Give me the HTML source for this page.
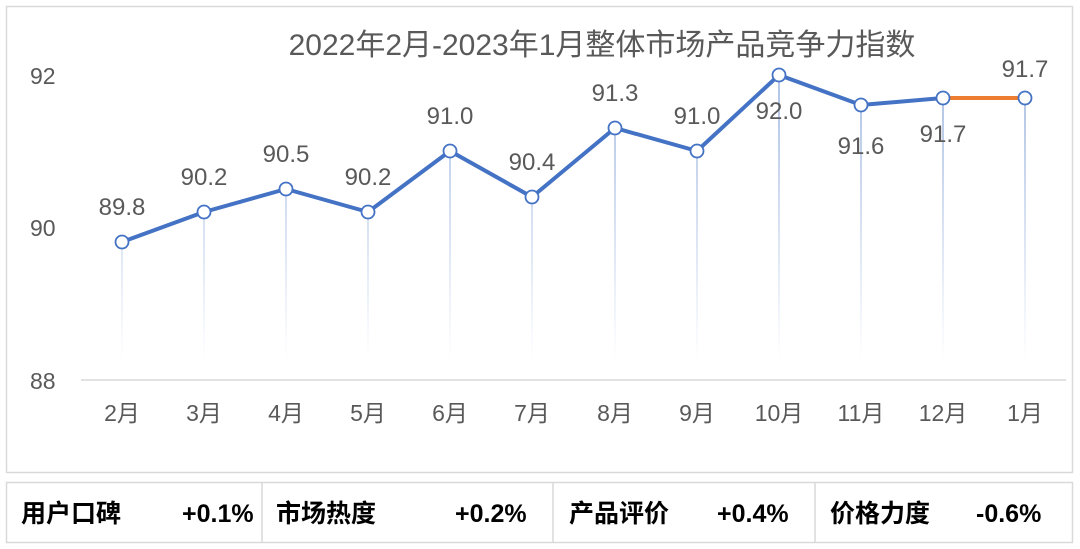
<!DOCTYPE html>
<html><head><meta charset="utf-8"><style>
body{margin:0;background:#fff;width:1080px;height:549px;overflow:hidden;font-family:"Liberation Sans","Noto Sans CJK SC",sans-serif}
</style></head><body>
<svg width="1080" height="549" xmlns="http://www.w3.org/2000/svg" style="position:absolute;left:0;top:0">
<defs><linearGradient id="g" gradientUnits="userSpaceOnUse" x1="0" y1="100" x2="0" y2="360"><stop offset="0" stop-color="#b4c7e7"/><stop offset="1" stop-color="#b4c7e7" stop-opacity="0"/></linearGradient></defs>
<rect x="6.5" y="6.5" width="1066" height="466" fill="#fff" stroke="#d9d9d9" stroke-width="1.5"/>
<text x="602" y="55" text-anchor="middle" font-size="30" fill="#595959" font-family="Liberation Sans,Noto Sans CJK SC,sans-serif">2022年2月-2023年1月整体市场产品竞争力指数</text>
<g font-size="23" fill="#595959">
<text x="30" y="84">92</text><text x="30" y="236">90</text><text x="30" y="389">88</text>
</g>
<line x1="81" y1="380" x2="1066" y2="380" stroke="#d9d9d9" stroke-width="1.5"/>
<g font-size="23" fill="#595959" text-anchor="middle" font-family="Liberation Sans,Noto Sans CJK SC,sans-serif">
<text x="122" y="421">2月</text><text x="204" y="421">3月</text><text x="286" y="421">4月</text><text x="368" y="421">5月</text><text x="450" y="421">6月</text><text x="532" y="421">7月</text><text x="615" y="421">8月</text><text x="697" y="421">9月</text><text x="779" y="421">10月</text><text x="861" y="421">11月</text><text x="943" y="421">12月</text><text x="1025" y="421">1月</text>
</g>
<g fill="url(#g)">
<rect x="121" y="242" width="2" height="118"/><rect x="203" y="212" width="2" height="148"/><rect x="285" y="189" width="2" height="171"/><rect x="367" y="212" width="2" height="148"/><rect x="449" y="151" width="2" height="209"/><rect x="531" y="197" width="2" height="163"/><rect x="614" y="128" width="2" height="232"/><rect x="696" y="151" width="2" height="209"/><rect x="778" y="75" width="2" height="285"/><rect x="860" y="105" width="2" height="255"/><rect x="942" y="98" width="2" height="262"/><rect x="1024" y="98" width="2" height="262"/>
</g>
<polyline points="122,242 204,212 286,189 368,212 450,151 532,197 615,128 697,151 779,75 861,105 943,98" fill="none" stroke="#4472c4" stroke-width="4" stroke-linejoin="round"/>
<line x1="943" y1="98" x2="1025" y2="98" stroke="#ed7d31" stroke-width="4"/>
<g fill="#fff" stroke="#4472c4" stroke-width="1.8">
<circle cx="122" cy="242" r="6.5"/><circle cx="204" cy="212" r="6.5"/><circle cx="286" cy="189" r="6.5"/><circle cx="368" cy="212" r="6.5"/><circle cx="450" cy="151" r="6.5"/><circle cx="532" cy="197" r="6.5"/><circle cx="615" cy="128" r="6.5"/><circle cx="697" cy="151" r="6.5"/><circle cx="779" cy="75" r="6.5"/><circle cx="861" cy="105" r="6.5"/><circle cx="943" cy="98" r="6.5"/><circle cx="1025" cy="98" r="6.5"/>
</g>
<g font-size="24" fill="#595959" text-anchor="middle">
<text x="122" y="215">89.8</text><text x="204" y="185">90.2</text><text x="286" y="162">90.5</text><text x="368" y="185">90.2</text><text x="450" y="124">91.0</text><text x="532" y="170">90.4</text><text x="615" y="101">91.3</text><text x="697" y="124">91.0</text><text x="779" y="119">92.0</text><text x="861" y="154">91.6</text><text x="943" y="142">91.7</text><text x="1025" y="77">91.7</text>
</g>
<rect x="6.5" y="482.5" width="1066" height="60" fill="#fff" stroke="#d9d9d9" stroke-width="1.5"/>
<g stroke="#d9d9d9" stroke-width="1.5"><line x1="262" y1="482" x2="262" y2="543"/><line x1="553" y1="482" x2="553" y2="543"/><line x1="815" y1="482" x2="815" y2="543"/></g>
<g font-size="25" font-weight="bold" fill="#000" font-family="Liberation Sans,Noto Sans CJK SC,sans-serif">
<text x="21" y="522">用户口碑</text><text x="182" y="522">+0.1%</text>
<text x="276" y="522">市场热度</text><text x="455" y="522">+0.2%</text>
<text x="569" y="522">产品评价</text><text x="717" y="522">+0.4%</text>
<text x="830" y="522">价格力度</text><text x="976" y="522">-0.6%</text>
</g>
</svg>
</body></html>
